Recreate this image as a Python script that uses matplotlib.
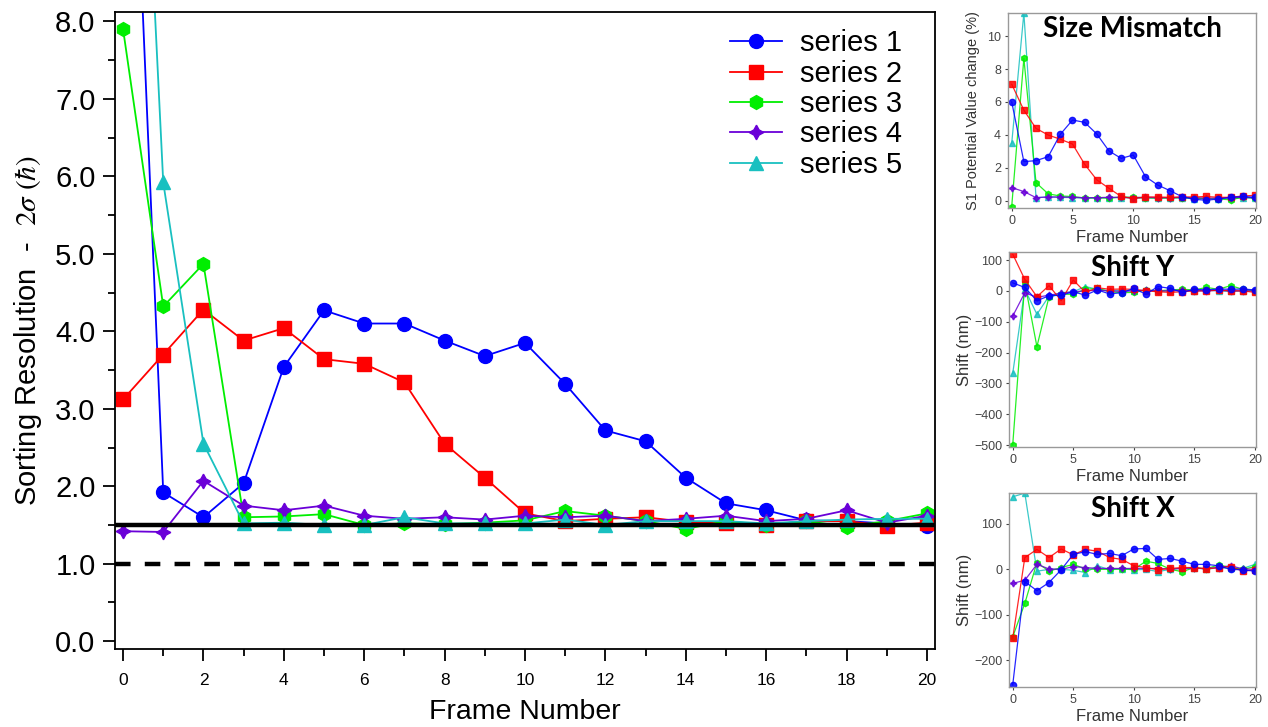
import matplotlib
matplotlib.use("Agg")
import matplotlib.pyplot as plt
from matplotlib.ticker import MultipleLocator

plt.rcParams['font.family'] = ['Liberation Sans', 'DejaVu Sans']
plt.rcParams['mathtext.fontset'] = 'stix'

frames = list(range(21))

# main chart: sorting resolution
s1 = [14.1, 1.92, 1.60, 2.04, 3.54, 4.27, 4.10, 4.10, 3.88, 3.68, 3.85, 3.32, 2.72, 2.58, 2.11,
      1.78, 1.69, 1.56, 1.55, 1.52, 1.49]
s2 = [3.12, 3.70, 4.28, 3.88, 4.04, 3.64, 3.58, 3.34, 2.55, 2.11, 1.65, 1.55, 1.58, 1.60, 1.54,
      1.52, 1.50, 1.55, 1.55, 1.49, 1.53]
s3 = [7.90, 4.32, 4.87, 1.60, 1.61, 1.64, 1.50, 1.52, 1.51, 1.53, 1.56, 1.68, 1.62, 1.55, 1.45,
      1.55, 1.50, 1.55, 1.48, 1.55, 1.65]
s4 = [1.42, 1.41, 2.07, 1.75, 1.69, 1.75, 1.62, 1.58, 1.60, 1.57, 1.62, 1.60, 1.62, 1.55, 1.58,
      1.62, 1.55, 1.58, 1.69, 1.53, 1.62]
s5 = [16.5, 5.92, 2.55, 1.52, 1.53, 1.50, 1.50, 1.60, 1.52, 1.52, 1.52, 1.57, 1.50, 1.55, 1.55,
      1.55, 1.52, 1.55, 1.57, 1.58, 1.58]
threshold = 1.5
limit = 1.0

# size mismatch (%)
sm1 = [6.0, 2.37, 2.43, 2.67, 4.03, 4.9, 4.76, 4.05, 3.02, 2.57, 2.77, 1.46, 0.95, 0.61, 0.24,
       0.08, 0.02, 0.10, 0.20, 0.25, 0.20]
sm2 = [7.08, 5.5, 4.39, 3.99, 3.73, 3.44, 2.21, 1.26, 0.75, 0.25, 0.12, 0.22, 0.22, 0.20, 0.22,
       0.22, 0.25, 0.20, 0.20, 0.28, 0.32]
sm3 = [-0.36, 8.65, 1.09, 0.41, 0.28, 0.25, 0.15, 0.17, 0.15, 0.22, 0.20, 0.18, 0.15, 0.15, 0.18,
       0.15, 0.12, 0.10, 0.05, 0.20, 0.15]
sm4 = [0.79, 0.55, 0.18, 0.22, 0.22, 0.20, 0.18, 0.18, 0.20, 0.20, 0.18, 0.20, 0.18, 0.18, 0.20,
       0.18, 0.15, 0.15, 0.18, 0.20, 0.18]
sm5 = [3.48, 11.4, 0.18, 0.22, 0.20, 0.18, 0.15, 0.15, 0.18, 0.18, 0.15, 0.15, 0.15, 0.18, 0.15,
       0.12, 0.12, 0.12, 0.15, 0.18, 0.15]

# shift Y (nm)
sy1 = [26, 11, -32, -16, -14, -3, -14, 3, -10, -6, 8, -11, 14, 8, -5, 5, 3, 6, 5, 6, 3]
sy2 = [119, 37, -19, 17, -32, 35, -5, 10, 5, 6, 5, 0, -3, -5, -3, 0, 0, 2, 0, 0, -5]
sy3 = [-500, 26, -181, -19, -11, -11, 5, 8, -3, -6, -5, 3, 0, 3, 5, 3, 11, 5, 17, 5, 0]
sy4 = [-82, -6, -21, -14, -8, -3, 0, 2, 0, -2, 0, 2, 0, 0, 2, 0, 0, 2, 0, 0, 0]
sy5 = [-268, 5, -76, -17, -6, -3, 14, 5, 0, 2, 0, 2, -2, 0, 2, 0, 2, 0, -2, 0, 0]

# shift X (nm)
sx1 = [-255, -27, -47, -29, -1, 33, 39, 33, 35, 30, 45, 46, 22, 24, 18, 11, 11, 8, 0, -1, -4]
sx2 = [-152, 26, 44, 26, 45, 32, 44, 40, 26, 22, 8, 4, -1, 2, 4, 4, 1, 4, 6, -4, -1]
sx3 = [-149, -75, 15, -4, 4, 11, 1, 0, 0, 1, 0, 18, 13, 0, -5, 4, 1, 10, 4, 0, 6]
sx4 = [-31, -24, 11, 1, 0, 6, 4, 2, 2, 2, 2, 2, 2, 1, 2, 2, 2, 4, 8, 1, 0]
sx5 = [160, 168, -4, 0, 0, -2, -7, 8, -1, 1, -1, 0, -5, 0, 2, 4, 0, 4, 2, 2, 11]

colors = ['#0000ff', '#ff0000', '#00ee00', '#6a00d8', '#19c0c0']
markers = ['o', 's', 'h', (4, 1, 0), '^']
labels = ['series 1', 'series 2', 'series 3', 'series 4', 'series 5']

fig = plt.figure(figsize=(12.68, 7.27), dpi=100)

# ---- main plot
ax = fig.add_axes([0.0907, 0.1073, 0.6467, 0.8762])
for ys, c, m, lab in zip([s1, s2, s3, s4, s5], colors, markers, labels):
    ms = 10.5 if m == (4, 1, 0) else 10
    ax.plot(frames, ys, color=c, marker=m, markersize=ms, linewidth=1.3, label=lab)
ax.axhline(threshold, color='black', linewidth=3.2)
ax.axhline(limit, color='black', linewidth=3.2, linestyle=(0, (3.5, 3.2)))
ax.set_xlim(-0.2, 20.2)
ax.set_ylim(-0.1, 8.12)
ax.xaxis.set_major_locator(MultipleLocator(2))
ax.xaxis.set_minor_locator(MultipleLocator(1))
ax.yaxis.set_major_locator(MultipleLocator(1))
ax.yaxis.set_minor_locator(MultipleLocator(0.5))
ax.yaxis.set_major_formatter(matplotlib.ticker.FormatStrFormatter('%.1f'))
ax.tick_params(axis='x', which='major', direction='out', length=8.5, width=1.3, labelsize=12.5, pad=9)
ax.tick_params(axis='x', which='minor', direction='out', length=5, width=1.3)
ax.tick_params(axis='y', which='major', direction='out', length=9, width=1.3, labelsize=21, pad=5)
ax.tick_params(axis='y', which='minor', direction='out', length=5, width=1.3)
for sp in ax.spines.values():
    sp.set_linewidth(1.3)
ax.set_xlabel('Frame Number', fontsize=20.5, labelpad=8)
ax.set_ylabel(r'Sorting Resolution  -  $2\sigma\ (\hbar)$', fontsize=21, labelpad=8)
ax.legend(loc='upper right', bbox_to_anchor=(0.981, 1.0), frameon=False, fontsize=21,
          handlelength=1.8, labelspacing=0.08, handletextpad=0.6, borderaxespad=0.2)

# ---- small plots
gray = '#999999'
small = [
    ([0.795, 0.7139, 0.1956, 0.268], [sm1, sm2, sm3, sm4, sm5], (-0.45, 11.4), 2,
     'S1 Potential Value change (%)', 10.5, 5, 'Size Mismatch'),
    ([0.7958, 0.3847, 0.1948, 0.2691], [sy1, sy2, sy3, sy4, sy5], (-507.5, 127), 100,
     'Shift (nm)', 12, 1, 'Shift Y'),
    ([0.7958, 0.0546, 0.1948, 0.2677], [sx1, sx2, sx3, sx4, sx5], (-260, 169), 100,
     'Shift (nm)', 12, 1, 'Shift X'),
]
small_ms = [4.5, 4.5, 4.5, 5, 4.5]
for rect, series, ylim, ystep, ylab, ylab_fs, ylab_pad, title in small:
    a = fig.add_axes(rect)
    order = [4, 2, 3, 1, 0]
    for i in order:
        a.plot(frames, series[i], color=colors[i], marker=markers[i], markersize=small_ms[i],
               linewidth=0.9, alpha=0.85)
    a.set_xlim(-0.3, 20.1)
    a.set_ylim(*ylim)
    a.xaxis.set_major_locator(MultipleLocator(5))
    a.yaxis.set_major_locator(MultipleLocator(ystep))
    a.tick_params(direction='out', length=2.5, width=0.8, colors='#444444', labelsize=9, pad=2.5)
    for sp in a.spines.values():
        sp.set_color(gray)
        sp.set_linewidth(1.0)
    a.set_xlabel('Frame Number', fontsize=12, color='#333333', labelpad=2)
    a.set_ylabel(ylab, fontsize=ylab_fs, color='#333333', labelpad=ylab_pad)
    a.text(0.5, 0.985, title, transform=a.transAxes, ha='center', va='top',
           fontsize=20, fontweight='bold', family=['Lato', 'DejaVu Sans'])

fig.savefig('out.png', dpi=100)
